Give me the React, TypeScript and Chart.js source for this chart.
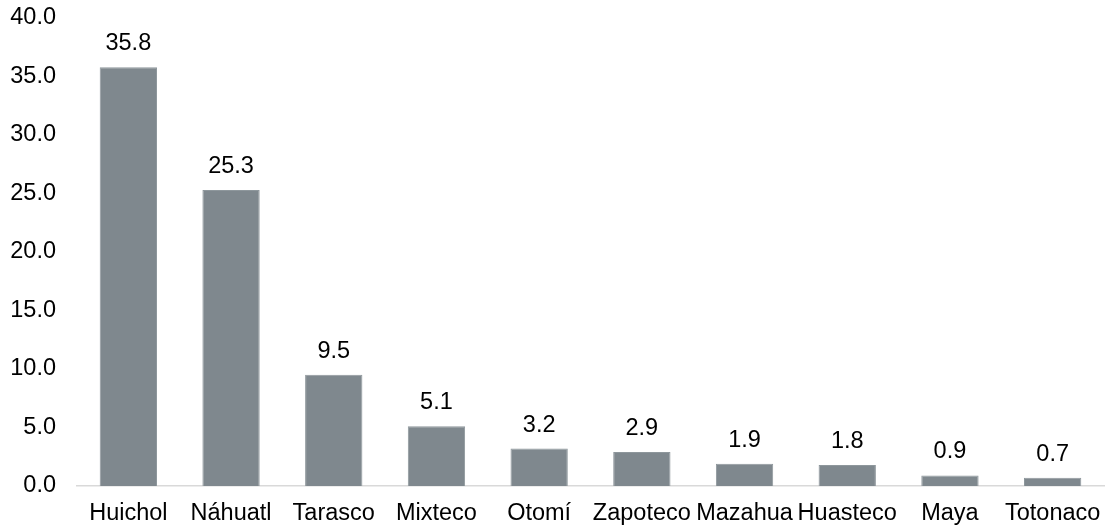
import React, { useEffect, useRef } from "react";
import { Chart, registerables } from "chart.js";

Chart.register(...registerables);

const categories = ["Huichol", "Náhuatl", "Tarasco", "Mixteco", "Otomí", "Zapoteco", "Mazahua", "Huasteco", "Maya", "Totonaco"];
const values = [35.8, 25.3, 9.5, 5.1, 3.2, 2.9, 1.9, 1.8, 0.9, 0.7];
const yMin = 0;
const yMax = 40;
const yStep = 5;

const FONT = "'Liberation Sans', Arial, sans-serif";
const FS = 23.5;

const valueLabels = {
  id: "valueLabels",
  afterDatasetsDraw(chart: any) {
    const ctx = chart.ctx;
    const meta = chart.getDatasetMeta(0);
    ctx.save();
    ctx.font = `${FS}px ${FONT}`;
    ctx.fillStyle = "#000";
    ctx.textAlign = "center";
    ctx.textBaseline = "alphabetic";
    meta.data.forEach((bar: any, i: number) => {
      ctx.fillText(values[i].toFixed(1), bar.x, bar.y - 17);
    });
    ctx.restore();
  },
};

export default function App() {
  const ref = useRef<HTMLCanvasElement>(null);
  useEffect(() => {
    if (!ref.current) return;
    const chart = new Chart(ref.current, {
      type: "bar",
      data: {
        labels: categories,
        datasets: [
          {
            data: values,
            backgroundColor: "#7F888E",
            borderColor: "#8E979C",
            borderWidth: 1,
            barPercentage: 0.558,
            categoryPercentage: 1,
          },
        ],
      },
      options: {
        animation: false,
        responsive: true,
        maintainAspectRatio: false,
        layout: { padding: { top: 18, right: 3, left: 0, bottom: 0 } },
        plugins: { legend: { display: false }, tooltip: { enabled: false } },
        scales: {
          x: {
            grid: { display: false, drawTicks: false },
            border: { display: true, color: "#D9D9D9", width: 1.5 },
            ticks: {
              color: "#000",
              font: { family: FONT, size: FS },
              padding: 13,
              maxRotation: 0,
              autoSkip: false,
            },
            afterFit: (s: any) => {
              s.height = 41;
              s.paddingLeft = 0;
              s.paddingRight = 0;
            },
          },
          y: {
            min: yMin,
            max: yMax,
            grid: { display: false, drawTicks: false },
            border: { display: false },
            ticks: {
              stepSize: yStep,
              color: "#000",
              font: { family: FONT, size: FS },
              padding: 21,
              callback: (v: any) => Number(v).toFixed(1),
            },
            afterFit: (s: any) => {
              s.width = 77;
              s.paddingTop = 0;
              s.paddingBottom = 0;
            },
          },
        },
      },
      plugins: [valueLabels],
    });
    return () => chart.destroy();
  }, []);
  return (
    <div style={{ position: "fixed", left: 0, top: 0, width: 1107, height: 527, background: "#fff" }}>
      <canvas ref={ref} />
    </div>
  );
}
